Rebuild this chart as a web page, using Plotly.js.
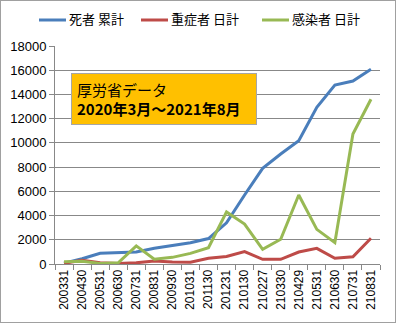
<!DOCTYPE html>
<html><head><meta charset="utf-8">
<script src="https://cdn.plot.ly/plotly-3.0.1.min.js"></script>
<style>
html,body{margin:0;padding:0;background:#fff;}
#wrap{position:relative;width:397px;height:325px;}
#chart{width:397px;height:325px;}
#frame{position:absolute;left:0;top:0;width:394px;height:321px;border:1px solid #a0a0a0;pointer-events:none;}
</style></head>
<body>
<div id="wrap"><div id="chart"></div><div id="frame"></div></div>
<script>
const categories = ["200331","200430","200531","200630","200731","200831","200930","201031","201130","201231","210130","210227","210330","210429","210531","210630","210731","210831"];
const deathsCumulative = [60,430,890,970,1000,1300,1550,1750,2100,3400,5700,7900,9080,10180,12940,14780,15110,16080];
const severeDaily = [60,300,100,50,100,250,170,150,470,620,1020,390,390,990,1290,470,600,2120];
const infectedDaily = [190,220,50,100,1500,390,550,880,1350,4300,3300,1210,2040,5700,2860,1760,10730,13600];
const seriesNames = ["死者 累計","重症者 日計","感染者 日計"];
const seriesColors = ['#4A7EBB','#BE4B48','#98B954'];
const noteLines = ["厚労省データ","2020年3月～2021年8月"];

const cjk = '"Noto Sans CJK JP", "Liberation Sans", sans-serif';
const M = {l:55, r:17, t:46, b:61};
const W = 397, H = 325, PW = W - M.l - M.r, PH = H - M.t - M.b;
const px = v => (v - M.l) / PW;
const py = v => (H - M.b - v) / PH;

const seriesData = [deathsCumulative, severeDaily, infectedDaily];
const traces = seriesData.map((d, i) => ({
  x: categories, y: d, name: seriesNames[i], type: 'scatter', mode: 'lines',
  line: {color: seriesColors[i], width: 3}
}));

// custom legend (positions in pixels)
const legendX = [39, 141, 262];
const legendY = 20;
const shapes = [], annotations = [];
legendX.forEach((x0, i) => {
  shapes.push({type:'line', xref:'paper', yref:'paper', x0:px(x0), x1:px(x0+27), y0:py(legendY), y1:py(legendY),
               line:{color:seriesColors[i], width:3}});
  annotations.push({xref:'paper', yref:'paper', x:px(x0+28), y:py(legendY-1), xanchor:'left', yanchor:'middle',
                    text:seriesNames[i], showarrow:false, font:{family:cjk, size:13, color:'#000'}});
});
annotations.push({
  xref:'paper', yref:'paper', x:px(71), y:py(73), xanchor:'left', yanchor:'top',
  text: noteLines[0] + '<br><b>' + noteLines[1] + '</b>', align:'left', showarrow:false,
  font:{family:cjk, size:15, color:'#000'}, bgcolor:'#FFC000', bordercolor:'#A6A6A6', borderwidth:1,
  borderpad:5, width:174, height:40
});

const layout = {
  width:W, height:H, margin:M,
  paper_bgcolor:'rgba(0,0,0,0)', plot_bgcolor:'#fff',
  showlegend:false,
  xaxis:{type:'category', range:[-0.5,17.5], tickangle:-90, ticks:'outside', tickson:'boundaries',
         ticklen:5, tickcolor:'#888', showline:true, linecolor:'#888', linewidth:1,
         showgrid:false, zeroline:false, tickfont:{family:'"Liberation Sans", sans-serif', size:12, color:'#000'}},
  yaxis:{range:[0,18000], dtick:2000, ticks:'outside', ticklen:5, tickcolor:'#888',
         showline:true, linecolor:'#888', linewidth:1, gridcolor:'#888', gridwidth:1,
         zeroline:false, tickformat:'d', tickfont:{family:'"Liberation Sans", sans-serif', size:13, color:'#000'}},
  shapes: shapes,
  annotations: annotations
};
Plotly.newPlot('chart', traces, layout, {displayModeBar:false, staticPlot:true});
</script>
</body></html>
